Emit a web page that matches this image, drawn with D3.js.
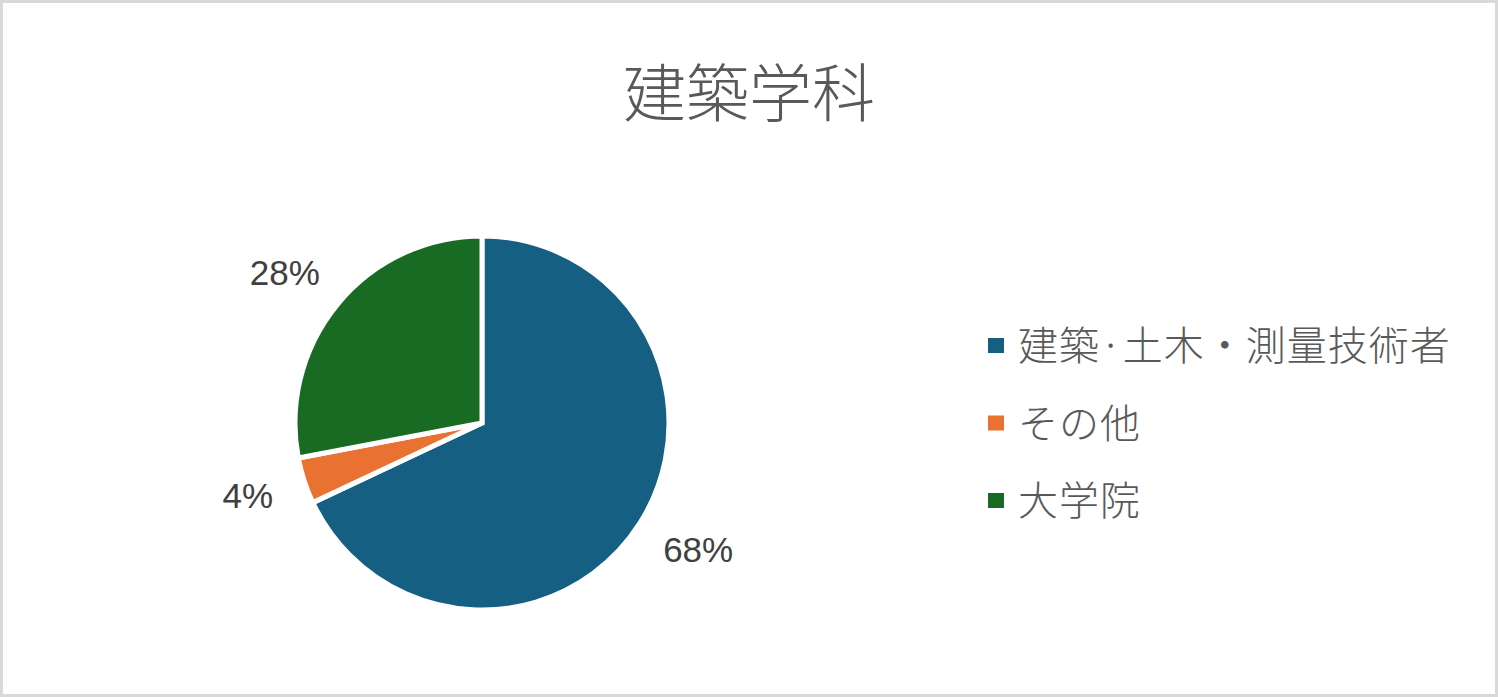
<!DOCTYPE html>
<html><head><meta charset="utf-8">
<script src="https://cdn.jsdelivr.net/npm/d3@7"></script>
<style>
html,body{margin:0;padding:0;background:#fff;}
svg{display:block;}
</style></head>
<body>
<svg id="chart" width="1498" height="697"></svg>
<script>
const title = "建築学科";
const categories = ["建築·土木・測量技術者", "その他", "大学院"];
const values = [68, 4, 28];
const colors = ["#156082", "#E97132", "#196B24"];

const W = 1498, H = 697;
const svg = d3.select("#chart");
const cjk = "'Noto Sans CJK JP', 'Noto Sans', sans-serif";

svg.append("rect").attr("x", 1.5).attr("y", 1.5).attr("width", W - 3).attr("height", H - 3)
  .attr("fill", "#fff").attr("stroke", "#d9d9d9").attr("stroke-width", 3);

svg.append("text").attr("x", 749).attr("y", 88)
  .attr("text-anchor", "middle").attr("dominant-baseline", "central")
  .attr("font-family", cjk).attr("font-weight", 300).attr("font-size", 63)
  .attr("fill", "#595959").text(title);

const cx = 482, cy = 423, r = 187;
const data = categories.map((c, i) => ({ cat: c, value: values[i], color: colors[i] }));
const pie = d3.pie().value(d => d.value).sort(null);
const arcs = pie(data);
const arc = d3.arc().innerRadius(0).outerRadius(r);
const labelR = 221;

const g = svg.append("g").attr("transform", `translate(${cx},${cy})`);
g.selectAll("path").data(arcs).join("path")
  .attr("d", arc).attr("fill", d => d.data.color)
  .attr("stroke", "#fff").attr("stroke-width", 5).attr("stroke-linejoin", "miter");

const total = d3.sum(values);
const fs = 35;
g.selectAll("text.lbl").data(arcs).join("text").attr("class", "lbl")
  .attr("text-anchor", "middle")
  .attr("font-family", "'Liberation Sans', Arial, sans-serif").attr("font-size", fs)
  .attr("fill", "#404040")
  .text(d => Math.round(d.data.value / total * 100) + "%")
  .each(function(d) {
    const a = (d.startAngle + d.endAngle) / 2;
    const w = this.getComputedTextLength();
    const s = Math.sin(a), c = -Math.cos(a);
    const x = labelR * s + s * w / 2;
    const yc = labelR * c + c * 15;
    d3.select(this).attr("x", x).attr("y", yc + 0.358 * fs);
  });

const leg = svg.append("g").attr("transform", "translate(988,338)");
const rows = leg.selectAll("g").data(data).join("g")
  .attr("transform", (d, i) => `translate(0,${i * 77.5})`);
rows.append("rect").attr("width", 16).attr("height", 15).attr("fill", d => d.color);
rows.append("text").attr("x", 30).attr("y", 5)
  .attr("dominant-baseline", "central")
  .attr("font-family", cjk).attr("font-weight", 300).attr("font-size", 40)
  .attr("letter-spacing", 1)
  .attr("fill", "#595959").text(d => d.cat);
</script>
</body></html>
